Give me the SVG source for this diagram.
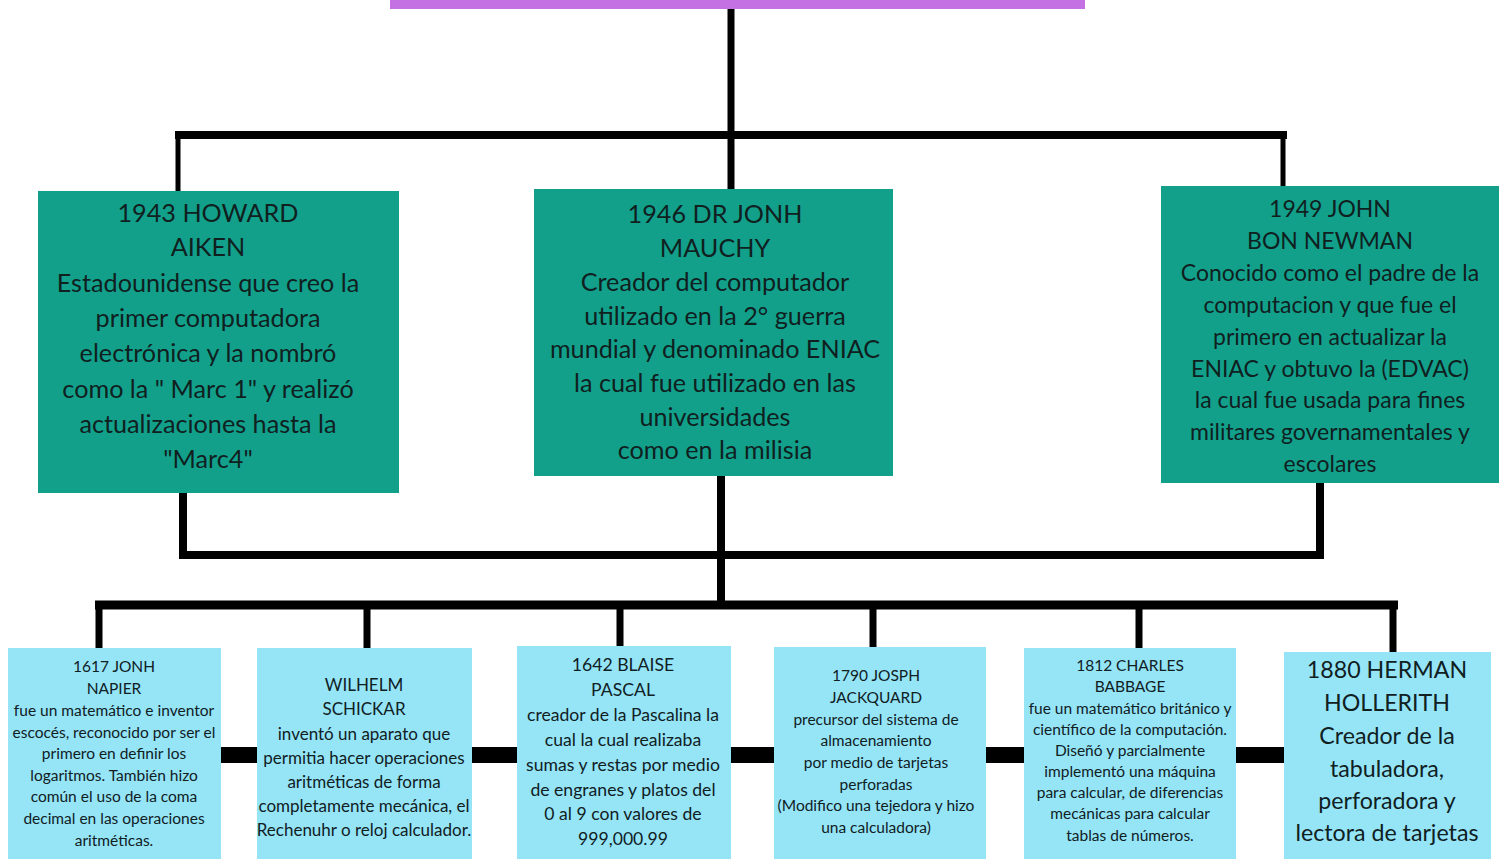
<svg xmlns="http://www.w3.org/2000/svg" width="1501" height="859" viewBox="0 0 1501 859">
<style>
.top{fill:#12a08b}
.bot{fill:#95e5f7}
.ln{stroke:#000;fill:none;stroke-linecap:butt}
text{font-family:"Lato","Noto Sans","Liberation Sans",sans-serif;fill:#10201f;text-anchor:middle}
.t1{font-size:25.2px}
.t2{font-size:23px}
.t3{font-size:15.5px}
.t4{font-size:17px}
.t4b{font-size:17.6px}
.t5{font-size:23.2px}
</style>
<rect width="1501" height="859" fill="#fff"/>
<g id="connectors">
<path class="ln" stroke-width="7" d="M731 9V190"/>
<path class="ln" stroke-width="8" d="M175 135H1287"/>
<path class="ln" stroke-width="5" d="M178 135V191M1283 135V186"/>
<path class="ln" stroke-width="8" d="M183 493V555H1320V483"/>
<path class="ln" stroke-width="8" d="M721 476V605"/>
<path class="ln" stroke-width="9" d="M95 605H1398"/>
<path class="ln" stroke-width="7" d="M99 605V649M367 605V649M620 605V647M873 605V648M1139 605V649M1393 605V653"/>
<path class="ln" stroke-width="16" d="M220 755H1285"/>
</g>
<g id="title"><rect x="390" y="0" width="695" height="9" fill="#c471e3"/></g>
<g id="aiken">
<rect class="top" x="38" y="191" width="361" height="302"/>
<text class="t1" x="208"><tspan x="208" y="222">1943 HOWARD</tspan><tspan x="208" y="256">AIKEN</tspan><tspan x="208" y="292">Estadounidense que creo la</tspan><tspan x="208" y="327">primer computadora</tspan><tspan x="208" y="362">electrónica y la nombró</tspan><tspan x="208" y="398">como la " Marc 1" y realizó</tspan><tspan x="208" y="433">actualizaciones hasta la</tspan><tspan x="208" y="468">"Marc4"</tspan></text>
</g>
<g id="mauchy">
<rect class="top" x="534" y="189" width="359" height="287"/>
<text class="t1" x="715"><tspan x="715" y="223">1946 DR JONH</tspan><tspan x="715" y="257">MAUCHY</tspan><tspan x="715" y="291">Creador del computador</tspan><tspan x="715" y="325">utilizado en la 2° guerra</tspan><tspan x="715" y="358">mundial y denominado ENIAC</tspan><tspan x="715" y="392">la cual fue utilizado en las</tspan><tspan x="715" y="426">universidades</tspan><tspan x="715" y="459">como en la milisia</tspan></text>
</g>
<g id="newman">
<rect class="top" x="1161" y="186" width="338" height="297"/>
<text class="t2" x="1330"><tspan x="1330" y="217">1949 JOHN</tspan><tspan x="1330" y="249">BON NEWMAN</tspan><tspan x="1330" y="281">Conocido como el padre de la</tspan><tspan x="1330" y="313">computacion y que fue el</tspan><tspan x="1330" y="345">primero en actualizar la</tspan><tspan x="1330" y="377">ENIAC y obtuvo la (EDVAC)</tspan><tspan x="1330" y="408">la cual fue usada para fines</tspan><tspan x="1330" y="440">militares governamentales y</tspan><tspan x="1330" y="472">escolares</tspan></text>
</g>
<g id="napier">
<rect class="bot" x="8" y="648" width="213" height="211"/>
<text class="t3" x="114"><tspan x="114" y="672">1617 JONH</tspan><tspan x="114" y="694">NAPIER</tspan><tspan x="114" y="716">fue un matemático e inventor</tspan><tspan x="114" y="738">escocés, reconocido por ser el</tspan><tspan x="114" y="759">primero en definir los</tspan><tspan x="114" y="781">logaritmos. También hizo</tspan><tspan x="114" y="802">común el uso de la coma</tspan><tspan x="114" y="824">decimal en las operaciones</tspan><tspan x="114" y="846">aritméticas.</tspan></text>
</g>
<g id="schickar">
<rect class="bot" x="257" y="648" width="215" height="211"/>
<text class="t4" x="364"><tspan x="364" y="691">WILHELM</tspan><tspan x="364" y="715">SCHICKAR</tspan><tspan x="364" y="740">inventó un aparato que</tspan><tspan x="364" y="764">permitia hacer operaciones</tspan><tspan x="364" y="788">aritméticas de forma</tspan><tspan x="364" y="812">completamente mecánica, el</tspan><tspan x="364" y="836">Rechenuhr o reloj calculador.</tspan></text>
</g>
<g id="pascal">
<rect class="bot" x="517" y="646" width="214" height="213"/>
<text class="t4b" x="623"><tspan x="623" y="671">1642 BLAISE</tspan><tspan x="623" y="696">PASCAL</tspan><tspan x="623" y="721">creador de la Pascalina la</tspan><tspan x="623" y="746">cual la cual realizaba</tspan><tspan x="623" y="771">sumas y restas por medio</tspan><tspan x="623" y="796">de engranes y platos del</tspan><tspan x="623" y="820">0 al 9 con valores de</tspan><tspan x="623" y="845">999,000.99</tspan></text>
</g>
<g id="jackquard">
<rect class="bot" x="774" y="647" width="212" height="212"/>
<text class="t3" x="876"><tspan x="876" y="681">1790 JOSPH</tspan><tspan x="876" y="703">JACKQUARD</tspan><tspan x="876" y="725">precursor del sistema de</tspan><tspan x="876" y="746">almacenamiento</tspan><tspan x="876" y="768">por medio de tarjetas</tspan><tspan x="876" y="790">perforadas</tspan><tspan x="876" y="811">(Modifico una tejedora y hizo</tspan><tspan x="876" y="833">una calculadora)</tspan></text>
</g>
<g id="babbage">
<rect class="bot" x="1024" y="648" width="212" height="211"/>
<text class="t3" x="1130"><tspan x="1130" y="671">1812 CHARLES</tspan><tspan x="1130" y="692">BABBAGE</tspan><tspan x="1130" y="714">fue un matemático británico y</tspan><tspan x="1130" y="735">científico de la computación.</tspan><tspan x="1130" y="756">Diseñó y parcialmente</tspan><tspan x="1130" y="777">implementó una máquina</tspan><tspan x="1130" y="798">para calcular, de diferencias</tspan><tspan x="1130" y="819">mecánicas para calcular</tspan><tspan x="1130" y="841">tablas de números.</tspan></text>
</g>
<g id="hollerith">
<rect class="bot" x="1284" y="652" width="207" height="207"/>
<text class="t5" x="1387"><tspan x="1387" y="678">1880 HERMAN</tspan><tspan x="1387" y="711">HOLLERITH</tspan><tspan x="1387" y="744">Creador de la</tspan><tspan x="1387" y="777">tabuladora,</tspan><tspan x="1387" y="809">perforadora y</tspan><tspan x="1387" y="841">lectora de tarjetas</tspan></text>
</g>
</svg>
